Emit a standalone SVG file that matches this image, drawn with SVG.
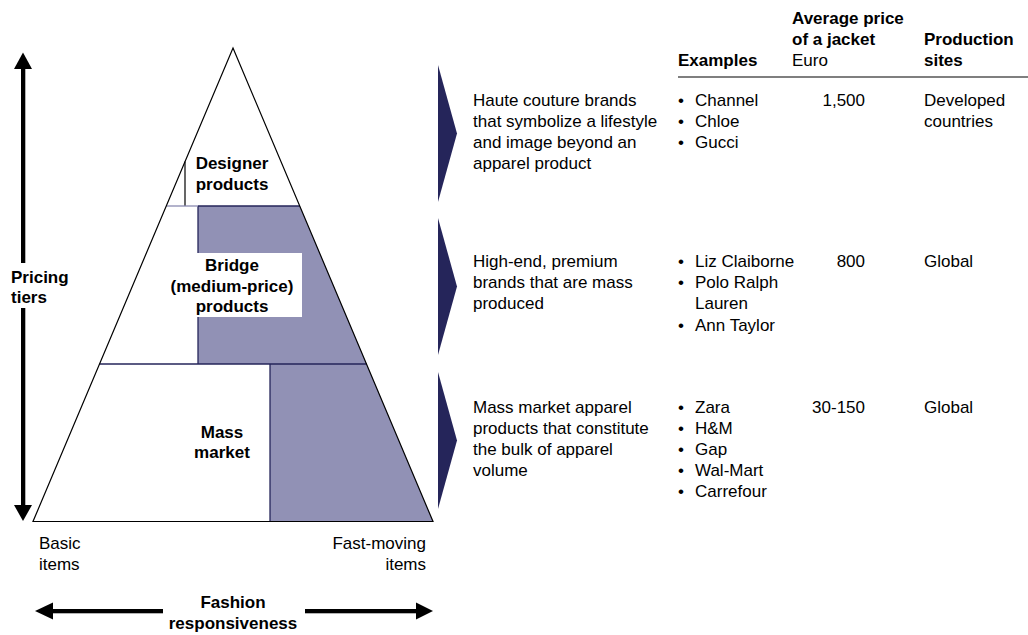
<svg xmlns="http://www.w3.org/2000/svg" width="1028" height="635" viewBox="0 0 1028 635">
  <defs>
    <style>
      text { font-family: "Liberation Sans", Arial, sans-serif; font-size: 17px; fill: #000; }
      .b { font-weight: bold; }
      .mid { text-anchor: middle; }
      .end { text-anchor: end; }
      .edge { fill: none; stroke: #000; stroke-width: 1.2; }
      .tier { fill: #9191b5; }
      .navy { stroke: #25255a; stroke-width: 1.3; fill: none; }
      .chev { fill: #25255a; }
      .axis { fill: #000; }
    </style>
  </defs>
  <rect width="1028" height="635" fill="#fff"/>

  <!-- pyramid -->
  <g id="pyramid">
    <polygon points="233,48 433,521.5 33,521.5" fill="#fff"/>
    <polygon class="tier" points="198,206 299.8,206 366.6,364 198,364"/>
    <polygon class="tier" points="270,364 366.6,364 433,521.5 270,521.5"/>
    <line x1="198" y1="206" x2="198" y2="364" class="navy" stroke="#000"/>
    <line x1="270" y1="364" x2="270" y2="521.5" class="navy" stroke="#000"/>
    <line x1="185" y1="161.5" x2="185" y2="206" stroke="#000" stroke-width="1.2"/>
    <line x1="166.2" y1="206" x2="198" y2="206" stroke="#8a8ab0" stroke-width="1.3"/>
    <line x1="198" y1="206" x2="299.8" y2="206" class="navy"/>
    <line x1="99.4" y1="364" x2="366.6" y2="364" class="navy"/>
    <polygon class="edge" points="233,48 433,521.5 33,521.5"/>
  </g>

  <g id="tier-designer">
    <text class="b mid" x="232" y="169">Designer</text>
    <text class="b mid" x="232" y="190">products</text>
  </g>

  <g id="tier-bridge">
    <rect x="194" y="253" width="108" height="64" fill="#fff"/>
    <text class="b mid" x="232" y="271">Bridge</text>
    <text class="b mid" x="232" y="292">(medium-price)</text>
    <text class="b mid" x="232" y="312">products</text>
  </g>

  <g id="tier-mass">
    <text class="b mid" x="222" y="438">Mass</text>
    <text class="b mid" x="222" y="458">market</text>
  </g>

  <!-- axes -->
  <g id="axis-pricing">
    <polygon class="axis" points="23,52.5 32,69 14,69"/>
    <rect class="axis" x="21" y="68" width="4.3" height="195"/>
    <rect class="axis" x="21" y="308" width="4.3" height="198"/>
    <polygon class="axis" points="14,505 32,505 23,521"/>
    <text class="b" x="11" y="283">Pricing</text>
    <text class="b" x="11" y="303">tiers</text>
  </g>

  <g id="axis-fashion">
    <polygon class="axis" points="35,611 53,602.5 53,619.5"/>
    <rect class="axis" x="52" y="609" width="111" height="4.3"/>
    <rect class="axis" x="305" y="609" width="113" height="4.3"/>
    <polygon class="axis" points="433,611 416,602.5 416,619.5"/>
    <text class="b mid" x="233" y="608">Fashion</text>
    <text class="b mid" x="233" y="629">responsiveness</text>
    <text x="39" y="549">Basic</text>
    <text x="39" y="570">items</text>
    <text class="end" x="426" y="549">Fast-moving</text>
    <text class="end" x="426" y="570">items</text>
  </g>

  <!-- pointers from each tier to its description -->
  <g id="connectors">
    <polygon class="chev" points="438,65 457,133.5 438,202"/>
    <polygon class="chev" points="438,218 457,286.5 438,355"/>
    <polygon class="chev" points="438,372 457,440.5 438,509"/>
  </g>

  <!-- table header -->
  <g id="table-header">
    <text class="b" x="678" y="66">Examples</text>
    <text class="b" x="792" y="24">Average price</text>
    <text class="b" x="792" y="45">of a jacket</text>
    <text x="792" y="66">Euro</text>
    <text class="b" x="924" y="45">Production</text>
    <text class="b" x="924" y="66">sites</text>
    <line x1="678" y1="77" x2="1028" y2="77" stroke="#7f7f7f" stroke-width="2"/>
  </g>

  <g id="row-designer">
    <text x="473" y="106">Haute couture brands</text>
    <text x="473" y="127">that symbolize a lifestyle</text>
    <text x="473" y="148">and image beyond an</text>
    <text x="473" y="169">apparel product</text>
    <text x="678" y="106">•</text><text x="695" y="106">Channel</text>
    <text x="678" y="127">•</text><text x="695" y="127">Chloe</text>
    <text x="678" y="148">•</text><text x="695" y="148">Gucci</text>
    <text class="end" x="865" y="106">1,500</text>
    <text x="924" y="106">Developed</text>
    <text x="924" y="127">countries</text>
  </g>

  <g id="row-bridge">
    <text x="473" y="267">High-end, premium</text>
    <text x="473" y="288">brands that are mass</text>
    <text x="473" y="309">produced</text>
    <text x="678" y="267">•</text><text x="695" y="267">Liz Claiborne</text>
    <text x="678" y="288">•</text><text x="695" y="288">Polo Ralph</text>
    <text x="695" y="309">Lauren</text>
    <text x="678" y="331">•</text><text x="695" y="331">Ann Taylor</text>
    <text class="end" x="865" y="267">800</text>
    <text x="924" y="267">Global</text>
  </g>

  <g id="row-mass">
    <text x="473" y="413">Mass market apparel</text>
    <text x="473" y="434">products that constitute</text>
    <text x="473" y="455">the bulk of apparel</text>
    <text x="473" y="476">volume</text>
    <text x="678" y="413">•</text><text x="695" y="413">Zara</text>
    <text x="678" y="434">•</text><text x="695" y="434">H&amp;M</text>
    <text x="678" y="455">•</text><text x="695" y="455">Gap</text>
    <text x="678" y="476">•</text><text x="695" y="476">Wal-Mart</text>
    <text x="678" y="497">•</text><text x="695" y="497">Carrefour</text>
    <text class="end" x="865" y="413">30-150</text>
    <text x="924" y="413">Global</text>
  </g>
</svg>
